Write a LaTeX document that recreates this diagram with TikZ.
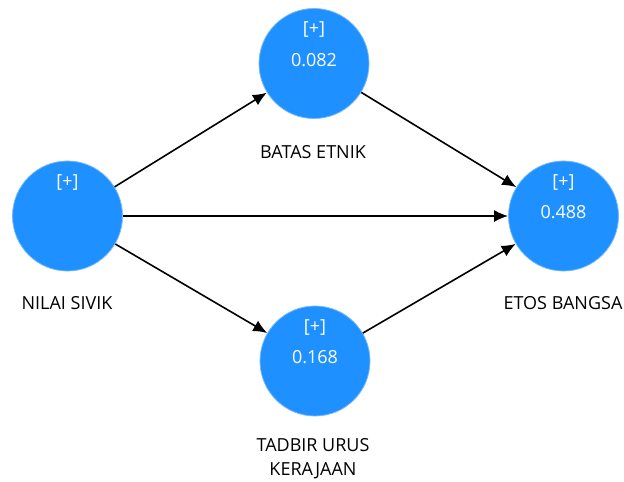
\documentclass[tikz,border=0pt]{standalone}
\usepackage{fontspec}
\setmainfont{Open Sans}
\usetikzlibrary{arrows.meta}
\definecolor{lvblue}{RGB}{30,144,255}
\definecolor{lvedge}{RGB}{120,185,250}
\begin{document}
\begin{tikzpicture}[x=1pt,y=-1pt,
	lv/.style={circle,fill=lvblue,draw=lvedge,line width=0.8pt,minimum size=110pt,inner sep=0pt},
	intext/.style={text=white,font=\fontsize{18}{20}\selectfont},
	lvname/.style={font=\fontsize{18}{24}\selectfont,align=center},
	relpath/.style={line width=1.6pt,-{Latex[length=14pt,width=12pt]}}]
	\useasboundingbox (0,0) rectangle (624,482);
	\node[lv] (civic) at (67.5,216) {};
	\node[lv] (border) at (314,63.5) {};
	\node[lv] (gov) at (315,361) {};
	\node[lv] (ethos) at (563.5,216) {};
	% indicator mark and r-square values
	\node[intext] (civicm) at ([yshift=34pt]civic.center) {[+]};
	\node[intext] (borderm) at ([yshift=34pt]border.center) {[+]};
	\node[intext] (borderv) at ([yshift=3.5pt]border.center) {0.082};
	\node[intext] (govm) at ([yshift=34pt]gov.center) {[+]};
	\node[intext] (govv) at ([yshift=3.5pt]gov.center) {0.168};
	\node[intext] (ethosm) at ([yshift=34pt]ethos.center) {[+]};
	\node[intext] (ethosv) at ([yshift=3.5pt]ethos.center) {0.488};
	% construct names
	\node[lvname] (civicn) at (67,303) {NILAI SIVIK};
	\node[lvname] (bordern) at (313,152) {BATAS ETNIK};
	\node[lvname] (ethosn) at (563,303) {ETOS BANGSA};
	\node[lvname] (govn) at (313,459) {TADBIR URUS\\KERAJAAN};
	\draw[relpath] (civic) -- (border);
	\draw[relpath] (civic) -- (ethos);
	\draw[relpath] (civic) -- (gov);
	\draw[relpath] (border) -- (ethos);
	\draw[relpath] (gov) -- (ethos);
\end{tikzpicture}
\end{document}
